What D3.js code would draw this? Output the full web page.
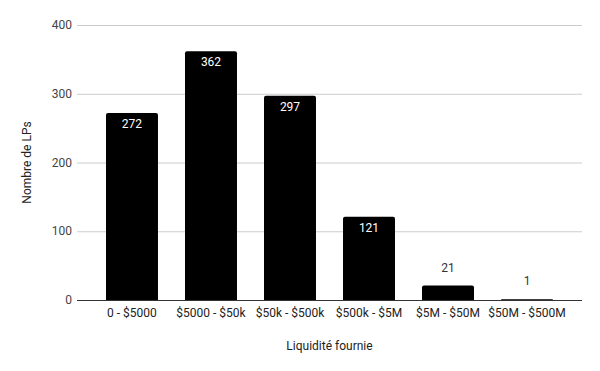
<!DOCTYPE html>
<html lang="en">
<head>
  <meta charset="UTF-8">
  <title>Nombre de LPs</title>
  <script src="https://d3js.org/d3.v7.min.js"></script>
  <style>
    body { margin: 0; background: #fff; }
    text { font-family: Roboto, Arial, sans-serif; }
  </style>
</head>
<body>
  <div id="chart"></div>
  <script>
    // Data
    const categories = ["0 - $5000", "$5000 - $50k", "$50k - $500k", "$500k - $5M", "$5M - $50M", "$50M - $500M"];
    const values = [272, 362, 297, 121, 21, 1];
    const yTicks = [0, 100, 200, 300, 400];

    const W = 600, H = 371;
    const plot = { left: 77, right: 582, top: 25, bottom: 300 };

    const svg = d3.select("#chart").append("svg")
      .attr("width", W).attr("height", H);

    const x = d3.scaleBand().domain(categories)
      .range([plot.left, plot.right])
      .paddingInner(0.342).paddingOuter(0.367);
    const y = d3.scaleLinear().domain([0, 400]).range([plot.bottom, plot.top]);

    // gridlines
    svg.append("g").selectAll("line")
      .data(yTicks.filter(d => d > 0))
      .join("line")
      .attr("x1", plot.left).attr("x2", plot.right)
      .attr("y1", d => y(d) + 0.5).attr("y2", d => y(d) + 0.5)
      .attr("stroke", "#ccc").attr("stroke-width", 1);

    // y tick labels
    svg.append("g").selectAll("text")
      .data(yTicks)
      .join("text")
      .attr("x", plot.left - 5)
      .attr("y", d => y(d))
      .attr("dy", "0.35em")
      .attr("text-anchor", "end")
      .attr("font-size", 12)
      .attr("fill", "#444")
      .text(d => d);

    // bars with slightly rounded tops
    const r = 2;
    svg.append("g").selectAll("path")
      .data(values)
      .join("path")
      .attr("fill", "#000")
      .attr("d", (d, i) => {
        const x0 = x(categories[i]), w = x.bandwidth();
        const y0 = y(d), yb = y(0);
        const rr = Math.min(r, yb - y0);
        return `M${x0},${yb}V${y0 + rr}Q${x0},${y0} ${x0 + rr},${y0}H${x0 + w - rr}Q${x0 + w},${y0} ${x0 + w},${y0 + rr}V${yb}Z`;
      });

    // baseline
    svg.append("line")
      .attr("x1", plot.left).attr("x2", plot.right)
      .attr("y1", y(0) + 0.5).attr("y2", y(0) + 0.5)
      .attr("stroke", "#333").attr("stroke-width", 1);

    // value labels: inside for tall bars, above for short ones
    const inside = d => (y(0) - y(d)) > 30;
    svg.append("g").selectAll("text")
      .data(values)
      .join("text")
      .attr("x", (d, i) => x(categories[i]) + x.bandwidth() / 2)
      .attr("y", d => inside(d) ? y(d) + 15 : y(d) - 14)
      .attr("text-anchor", "middle")
      .attr("font-size", 12)
      .attr("fill", d => inside(d) ? "#fff" : "#333")
      .text(d => d);

    // x category labels
    svg.append("g").selectAll("text")
      .data(categories)
      .join("text")
      .attr("x", d => x(d) + x.bandwidth() / 2)
      .attr("y", plot.bottom + 17)
      .attr("text-anchor", "middle")
      .attr("font-size", 12)
      .attr("fill", "#222")
      .text(d => d);

    // axis titles
    svg.append("text")
      .attr("x", (plot.left + plot.right) / 2)
      .attr("y", 350)
      .attr("text-anchor", "middle")
      .attr("font-size", 12)
      .attr("fill", "#222")
      .text("Liquidité fournie");

    svg.append("text")
      .attr("transform", `translate(31,${(plot.top + plot.bottom) / 2}) rotate(-90)`)
      .attr("text-anchor", "middle")
      .attr("font-size", 12)
      .attr("fill", "#222")
      .text("Nombre de LPs");
  </script>
</body>
</html>
